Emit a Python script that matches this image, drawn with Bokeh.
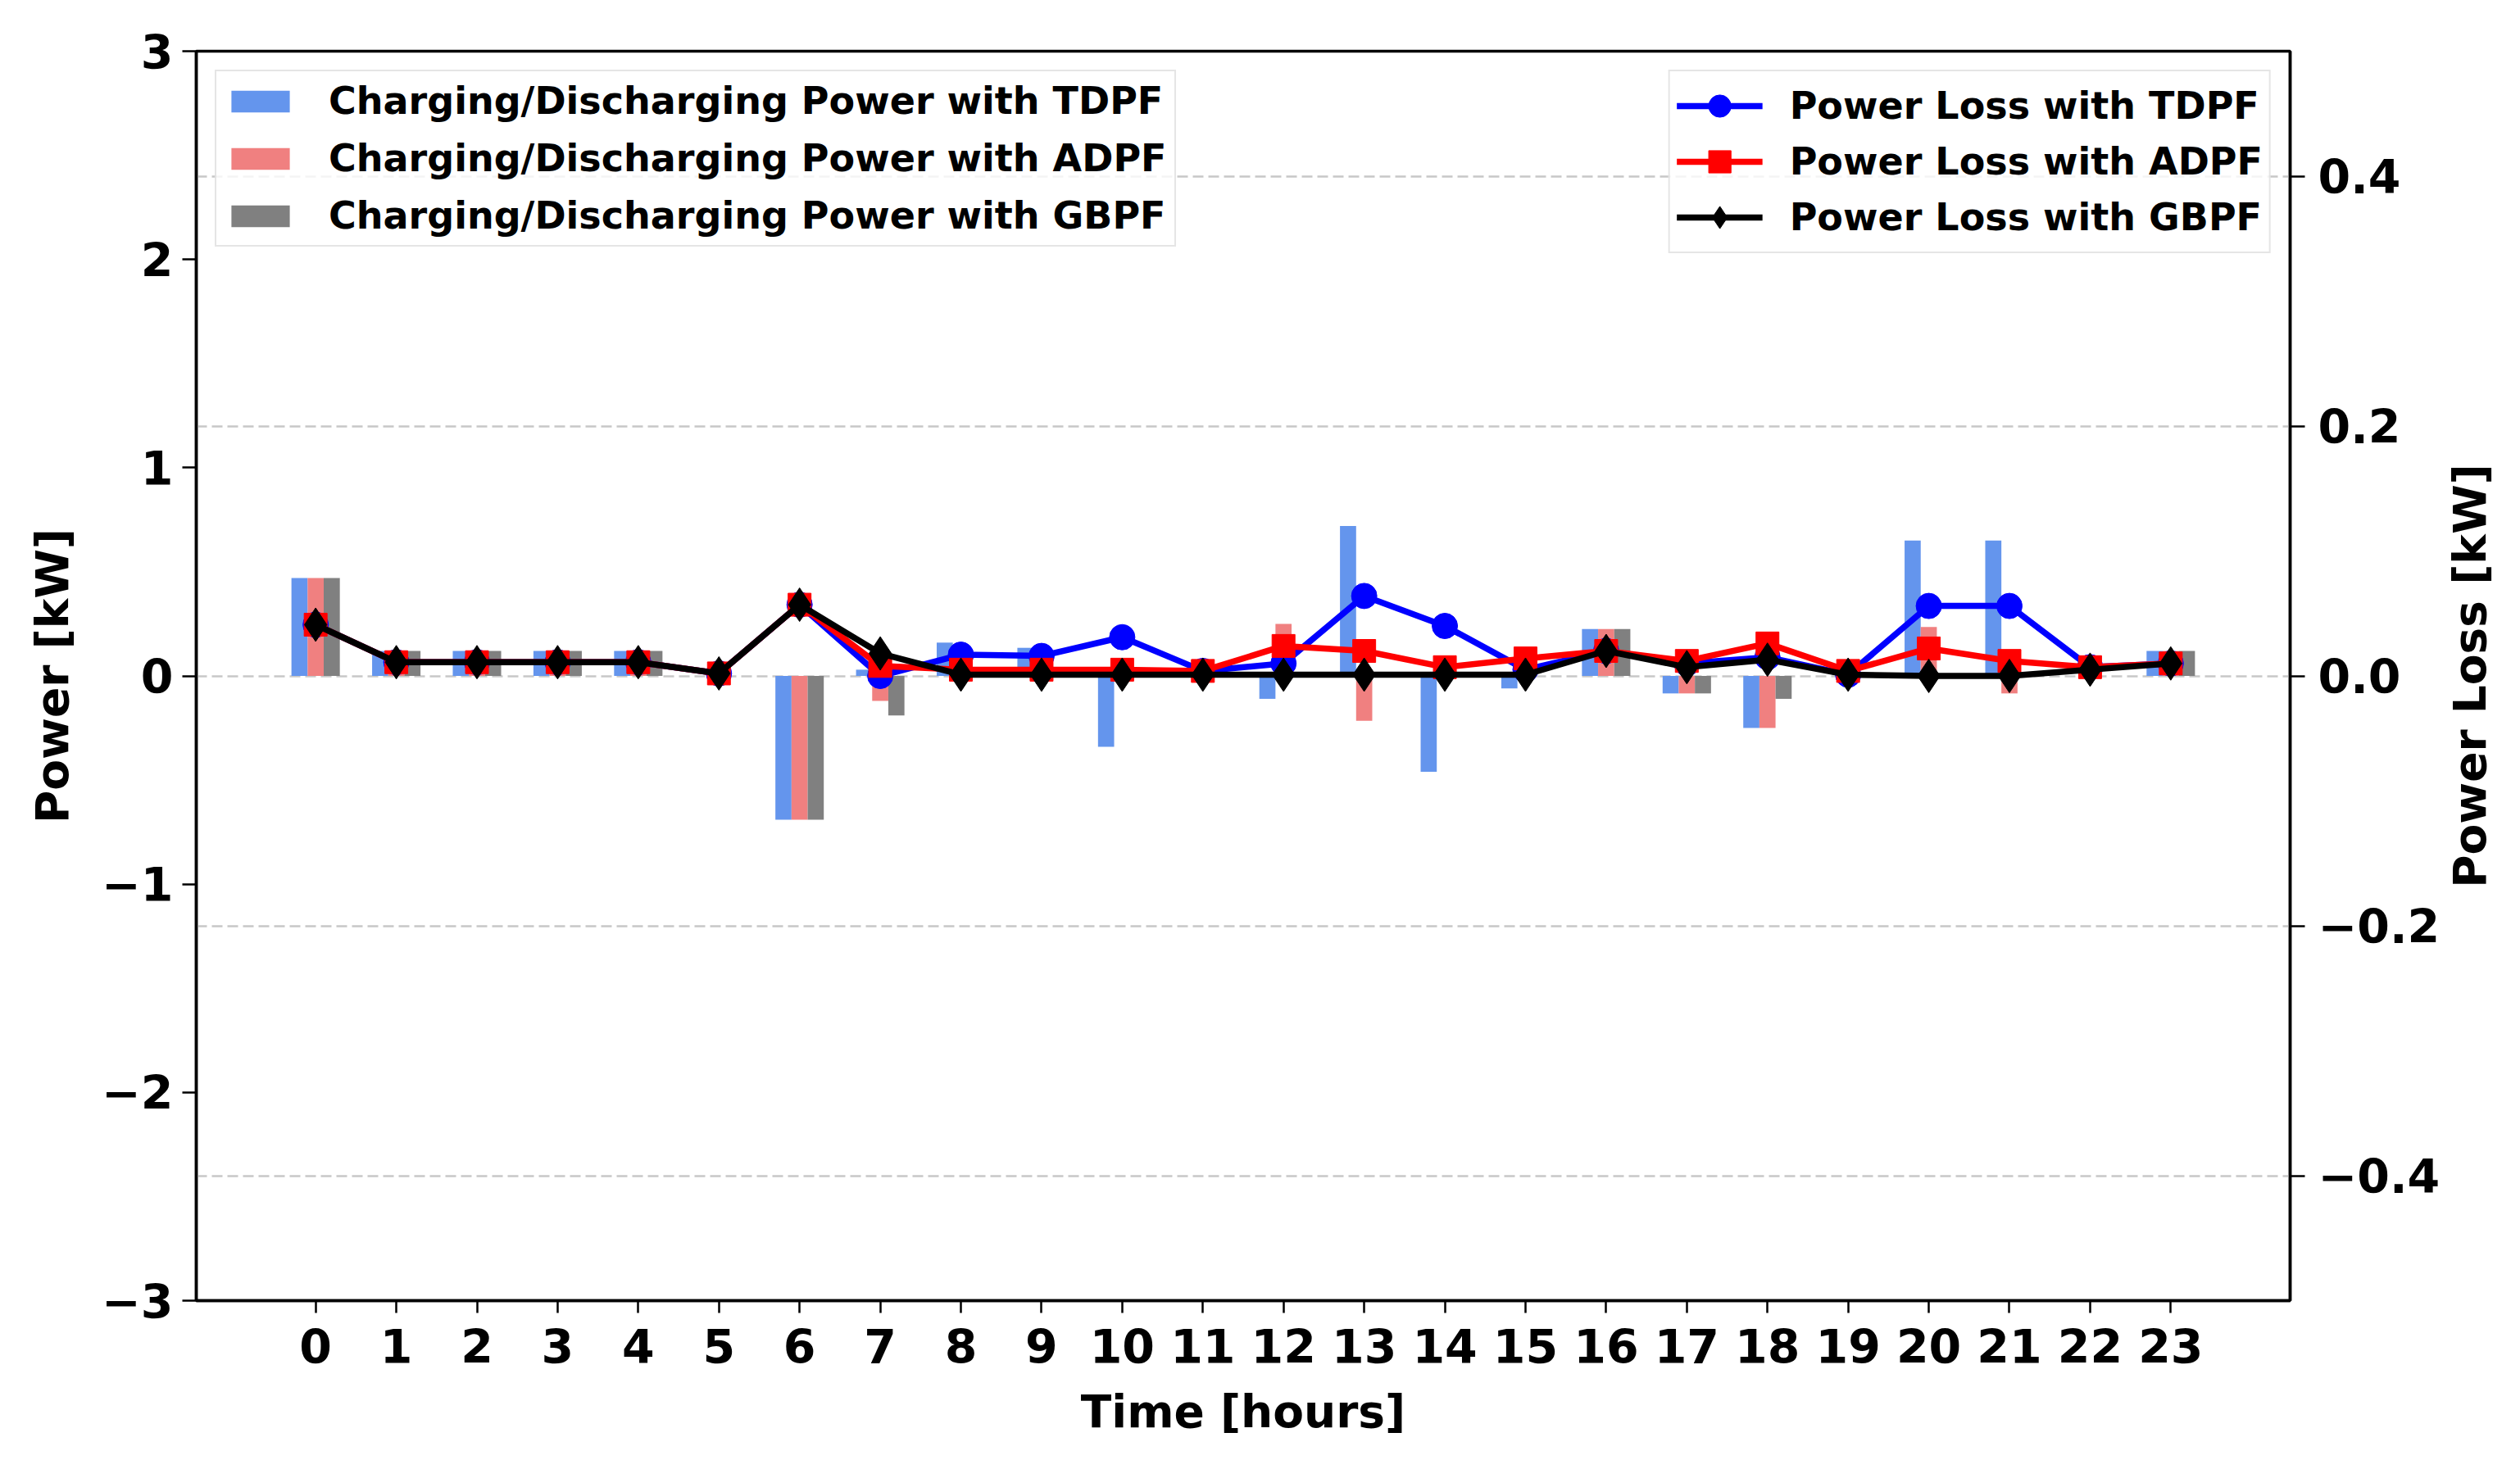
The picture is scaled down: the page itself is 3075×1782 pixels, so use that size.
import math
from bokeh.plotting import figure
from bokeh.layouts import row
from bokeh.models import (Range1d, LinearAxis, FixedTicker, Grid, Legend,
                          LegendItem, ColumnDataSource)
from bokeh.core.properties import value
from bokeh.transform import dodge
from bokeh.embed import file_html
from bokeh.resources import INLINE

# ---------------- data ----------------
hours = list(range(24))
hour_labels = [str(h) for h in hours]

bar_tdpf = [0.47, 0.12, 0.12, 0.12, 0.12, 0.00, -0.69, 0.03, 0.16, 0.135, -0.34, 0.00,
            -0.11, 0.72, -0.46, -0.06, 0.225, -0.084, -0.25, 0.00, 0.65, 0.65, 0.00, 0.12]
bar_adpf = [0.47, 0.12, 0.12, 0.12, 0.12, 0.00, -0.69, -0.12, 0.00, 0.00, 0.00, 0.00,
            0.25, -0.215, 0.00, 0.00, 0.225, -0.084, -0.25, 0.00, 0.235, -0.084, 0.00, 0.12]
bar_gbpf = [0.47, 0.12, 0.12, 0.12, 0.12, 0.00, -0.69, -0.19, 0.00, 0.00, 0.00, 0.00,
            0.00, 0.00, 0.00, 0.00, 0.225, -0.084, -0.11, 0.00, 0.00, 0.00, 0.00, 0.12]

loss_tdpf = [0.041, 0.011, 0.011, 0.011, 0.011, 0.002, 0.057, 0.000, 0.017, 0.016, 0.031, 0.004,
             0.010, 0.064, 0.040, 0.005, 0.020, 0.010, 0.015, 0.001, 0.056, 0.056, 0.007, 0.010]
loss_adpf = [0.041, 0.011, 0.011, 0.011, 0.011, 0.002, 0.057, 0.008, 0.005, 0.005, 0.005, 0.004,
             0.024, 0.020, 0.007, 0.014, 0.020, 0.012, 0.026, 0.004, 0.022, 0.012, 0.007, 0.010]
loss_gbpf = [0.041, 0.011, 0.011, 0.011, 0.011, 0.002, 0.057, 0.018, 0.001, 0.001, 0.001, 0.001,
             0.001, 0.001, 0.001, 0.001, 0.020, 0.007, 0.013, 0.001, 0.000, 0.000, 0.005, 0.010]

left_ticks = [-3, -2, -1, 0, 1, 2, 3]
right_ticks = [-0.4, -0.2, 0.0, 0.2, 0.4]
right_tick_labels = ["\u22120.4", "\u22120.2", "0.0", "0.2", "0.4"]

bar_names = ["Charging/Discharging Power with TDPF",
             "Charging/Discharging Power with ADPF",
             "Charging/Discharging Power with GBPF"]
loss_names = ["Power Loss with TDPF", "Power Loss with ADPF", "Power Loss with GBPF"]
right_title = "Power Loss [kW]"

# ---------------- style ----------------
FONT = "DejaVu Sans"
src = ColumnDataSource(dict(hour=hours, tdpf=bar_tdpf, adpf=bar_adpf, gbpf=bar_gbpf,
                            ltdpf=loss_tdpf, ladpf=loss_adpf, lgbpf=loss_gbpf))

TOTAL_W, H = 3059, 1766
W = 2980                       # main figure width
W2 = TOTAL_W - W               # strip holding the right-axis title
BL, BT, BB = 239, 62, 179
BR = W - BL - 2556
p = figure(width=W, height=H, output_backend="svg", toolbar_location=None,
           x_range=Range1d(-1.48, 24.48), y_range=Range1d(-3, 3),
           min_border_left=BL, min_border_right=BR, min_border_top=BT,
           min_border_bottom=BB, background_fill_color="white")
p.extra_y_ranges = {"loss": Range1d(-0.5, 0.5)}
p.xgrid.visible = False
p.ygrid.visible = False
p.outline_line_color = "black"
p.outline_line_width = 3.5

# grid from the right axis ticks
grid = Grid(dimension=1, ticker=FixedTicker(ticks=right_ticks), y_range_name="loss",
            grid_line_color="#c8c8c8", grid_line_dash="13 6", grid_line_width=2.5)
p.add_layout(grid)

# bars
bw = 0.2
r_b1 = p.vbar(x=dodge("hour", -0.2, range=p.x_range), top="tdpf", width=bw, source=src,
              fill_color="#6495ED", line_color=None)
r_b2 = p.vbar(x=dodge("hour", 0.0, range=p.x_range), top="adpf", width=bw, source=src,
              fill_color="#F08080", line_color=None)
r_b3 = p.vbar(x=dodge("hour", 0.2, range=p.x_range), top="gbpf", width=bw, source=src,
              fill_color="#808080", line_color=None)

# loss lines
LW = 7.5
l1 = p.line("hour", "ltdpf", source=src, y_range_name="loss", line_color="#0000FF", line_width=LW)
m1 = p.scatter("hour", "ltdpf", source=src, y_range_name="loss", marker="circle", size=31,
               fill_color="#0000FF", line_color="#0000FF")
l2 = p.line("hour", "ladpf", source=src, y_range_name="loss", line_color="#FF0000", line_width=LW)
m2 = p.scatter("hour", "ladpf", source=src, y_range_name="loss", marker="square", size=28,
               fill_color="#FF0000", line_color="#FF0000")
l3 = p.line("hour", "lgbpf", source=src, y_range_name="loss", line_color="black", line_width=LW)
m3 = p.scatter("hour", "lgbpf", source=src, y_range_name="loss", marker="diamond", size=41,
               fill_color="black", line_color="black")

# axes
def style_axis(ax, tick_out):
    ax.major_label_text_font = FONT
    ax.major_label_text_font_style = "bold"
    ax.major_label_text_font_size = "57px"
    ax.major_label_text_color = "black"
    ax.axis_label_text_font = FONT
    ax.axis_label_text_font_style = "bold"
    ax.axis_label_text_font_size = "55px"
    ax.axis_label_text_color = "black"
    ax.major_tick_out = tick_out
    ax.major_tick_in = 0
    ax.major_tick_line_width = 2.5
    ax.major_tick_line_color = "black"
    ax.minor_tick_line_color = None
    ax.axis_line_width = 3.5
    ax.axis_line_color = "black"

xa = p.xaxis[0]
style_axis(xa, 15)
xa.ticker = FixedTicker(ticks=hours)
xa.major_label_overrides = {h: lab for h, lab in zip(hours, hour_labels)}
xa.axis_label = "Time [hours]"
xa.major_label_standoff = 19
xa.axis_label_standoff = 24

ya = p.yaxis[0]
style_axis(ya, 17)
ya.ticker = FixedTicker(ticks=left_ticks)
ya.major_label_overrides = {t: (str(t) if t >= 0 else "\u2212" + str(-t)) for t in left_ticks}
ya.axis_label = "Power [kW]"
ya.major_label_standoff = 11
ya.axis_label_standoff = 25

ra = LinearAxis(y_range_name="loss", ticker=FixedTicker(ticks=right_ticks))
style_axis(ra, 18)
ra.major_label_overrides = {t: lab for t, lab in zip(right_ticks, right_tick_labels)}
ra.major_label_standoff = 16
p.add_layout(ra, "right")

# legends
leg1 = Legend(items=[LegendItem(label=bar_names[0], renderers=[r_b1]),
                     LegendItem(label=bar_names[1], renderers=[r_b2]),
                     LegendItem(label=bar_names[2], renderers=[r_b3])],
              location="top_left", margin=23, padding=9, spacing=16,
              glyph_width=89, glyph_height=33, label_height=54, label_standoff=39,
              label_text_font=FONT, label_text_font_style="bold",
              label_text_font_size="46px", label_text_color="black",
              border_line_color="#cccccc", border_line_width=2.5,
              background_fill_color="white", background_fill_alpha=0.8)
leg2 = Legend(items=[LegendItem(label=loss_names[0], renderers=[l1, m1]),
                     LegendItem(label=loss_names[1], renderers=[l2, m2]),
                     LegendItem(label=loss_names[2], renderers=[l3, m3])],
              location="top_right", margin=23, padding=8, spacing=0,
              glyph_width=105, glyph_height=68, label_height=20, label_standoff=33,
              label_text_font=FONT, label_text_font_style="bold",
              label_text_font_size="46px", label_text_color="black",
              border_line_color="#cccccc", border_line_width=2.5,
              background_fill_color="white", background_fill_alpha=0.8)
p.add_layout(leg1)
p.add_layout(leg2)

# narrow strip to the right holding the right-axis title (bottom-to-top)
p2 = figure(width=W2, height=H, output_backend="svg", toolbar_location=None,
            x_range=Range1d(0, W2), y_range=Range1d(-1, 1),
            x_axis_location=None, y_axis_location=None,
            min_border_left=0, min_border_right=0, min_border_top=BT, min_border_bottom=BB,
            background_fill_color="white", border_fill_color="white")
p2.outline_line_color = None
p2.grid.visible = False
p2.text(x=[33], y=[0], text=[right_title], angle=math.pi / 2,
        text_align="center", text_baseline="middle",
        text_font=value(FONT), text_font_style="bold", text_font_size="55px",
        text_color="black")

layout = row(p, p2, spacing=0)
open("out.html", "w").write(file_html(layout, INLINE))
